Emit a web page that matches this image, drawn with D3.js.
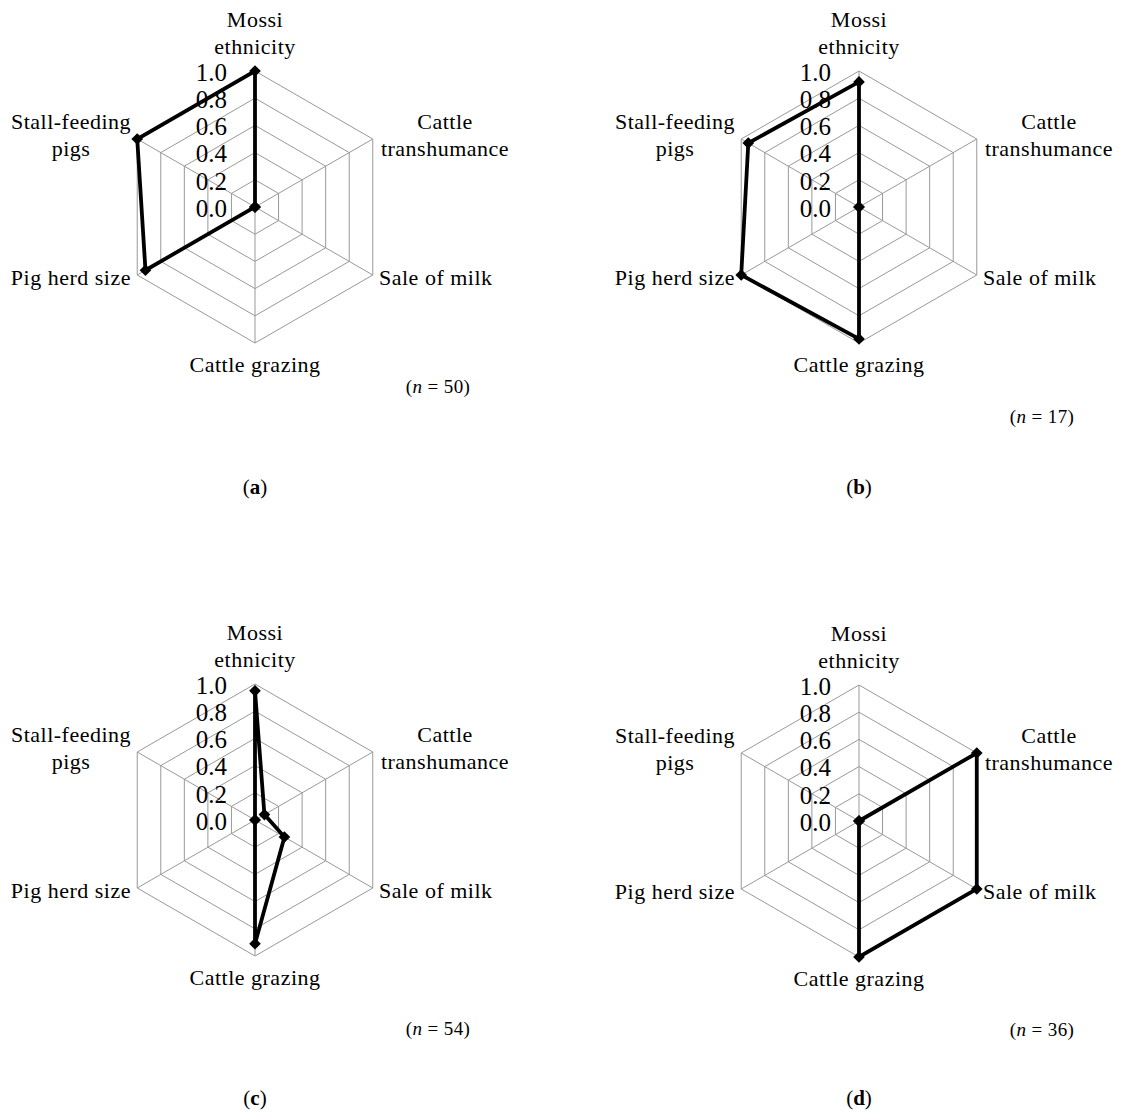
<!DOCTYPE html>
<html>
<head>
<meta charset="utf-8">
<script src="https://cdn.jsdelivr.net/npm/d3@7"></script>
<style>
  html, body { margin: 0; padding: 0; background: #fff; }
  svg { display: block; }
  text { font-family: "Liberation Serif", "Times New Roman", serif; fill: #000; }
</style>
</head>
<body>
<svg id="chart" width="1121" height="1118"></svg>
<script>
// Axes of each radar, clockwise from the top
const categories = [
  ["Mossi", "ethnicity"],
  ["Cattle", "transhumance"],
  ["Sale of milk"],
  ["Cattle grazing"],
  ["Pig herd size"],
  ["Stall-feeding", "pigs"]
];

// Proportions per cluster, in the order of the categories
const valuesA = [1.00, 0.00, 0.00, 0.00, 0.93, 1.00];
const valuesB = [0.92, 0.00, 0.00, 0.97, 1.00, 0.94];
const valuesC = [0.95, 0.08, 0.25, 0.91, 0.00, 0.00];
const valuesD = [0.00, 1.00, 1.00, 1.00, 0.00, 0.00];

const panelLetters = ["a", "b", "c", "d"];
const sampleSizes = [50, 17, 54, 36];
const tickValues = [0, 0.2, 0.4, 0.6, 0.8, 1.0];

const panels = [
  { values: valuesA, cx: 255, cy: 207, nDy: 186, letterY: 494 },
  { values: valuesB, cx: 859, cy: 207, nDy: 216, letterY: 494 },
  { values: valuesC, cx: 255, cy: 820, nDy: 215, letterY: 1105 },
  { values: valuesD, cx: 859, cy: 821, nDy: 215, letterY: 1105 }
];

const R = 136;
const rScale = d3.scaleLinear().domain([0, 1]).range([0, R]);
const angle = d3.scaleLinear().domain([0, categories.length]).range([0, 2 * Math.PI]);

const svg = d3.select("#chart");

// label placement relative to the centre of each radar
const labelSpec = [
  { dx: 0,    dy: -180.5, anchor: "middle" },
  { dx: 190,  dy: -78,    anchor: "middle" },
  { dx: 124,  dy: 78,     anchor: "start" },
  { dx: 0,    dy: 164.5,  anchor: "middle" },
  { dx: -124, dy: 78,     anchor: "end" },
  { dx: -184, dy: -78,    anchor: "middle" }
];

const pt = (i, v) => {
  const a = angle(i) - Math.PI / 2;
  return [rScale(v) * Math.cos(a), rScale(v) * Math.sin(a)];
};

panels.forEach((p, pi) => {
  const g = svg.append("g").attr("transform", `translate(${p.cx},${p.cy})`);

  // hexagonal grid rings
  const ring = d3.lineRadial()
    .angle((d, i) => angle(i))
    .radius(d => rScale(d))
    .curve(d3.curveLinearClosed);
  tickValues.filter(t => t > 0).forEach(t => {
    g.append("path")
      .attr("d", ring(categories.map(() => t)))
      .attr("fill", "none")
      .attr("stroke", "#999")
      .attr("stroke-width", 1);
  });

  // spokes
  categories.forEach((c, i) => {
    const [x, y] = pt(i, 1);
    g.append("line")
      .attr("x1", 0).attr("y1", 0).attr("x2", x).attr("y2", y)
      .attr("stroke", "#999").attr("stroke-width", 1);
  });

  // data outline
  g.append("path")
    .attr("d", ring(p.values))
    .attr("fill", "none")
    .attr("stroke", "#000")
    .attr("stroke-width", 3.8)
    .attr("stroke-linejoin", "miter");

  // diamond markers
  const diamond = d3.symbol().type(d3.symbolSquare).size(68);
  p.values.forEach((v, i) => {
    const [x, y] = pt(i, v);
    g.append("path")
      .attr("d", diamond())
      .attr("transform", `translate(${x},${y}) rotate(45)`)
      .attr("fill", "#000");
  });

  // radial tick labels
  tickValues.forEach(t => {
    g.append("text")
      .attr("x", -28)
      .attr("y", -rScale(t) + 9.7)
      .attr("text-anchor", "end")
      .style("font-size", "25px")
      .text(d3.format(".1f")(t));
  });

  // category labels
  categories.forEach((lines, i) => {
    const s = labelSpec[i];
    const t = g.append("text")
      .attr("x", s.dx)
      .attr("y", s.dy)
      .attr("text-anchor", s.anchor)
      .style("font-size", "22px")
      .style("letter-spacing", "0.5px");
    lines.forEach((ln, li) => {
      t.append("tspan")
        .attr("x", s.dx)
        .attr("dy", li === 0 ? 0 : 27)
        .text(ln);
    });
  });

  // sample size
  const n = g.append("text")
    .attr("x", 183)
    .attr("y", p.nDy)
    .attr("text-anchor", "middle")
    .style("font-size", "19px")
    .style("letter-spacing", "0.4px");
  n.append("tspan").text("(");
  n.append("tspan").style("font-style", "italic").text("n");
  n.append("tspan").text(" = " + sampleSizes[pi] + ")");

  // panel letter
  const L = svg.append("text")
    .attr("x", p.cx)
    .attr("y", p.letterY)
    .attr("text-anchor", "middle")
    .style("font-size", "21px");
  L.append("tspan").text("(");
  L.append("tspan").style("font-weight", "bold").text(panelLetters[pi]);
  L.append("tspan").text(")");
});
</script>
</body>
</html>
